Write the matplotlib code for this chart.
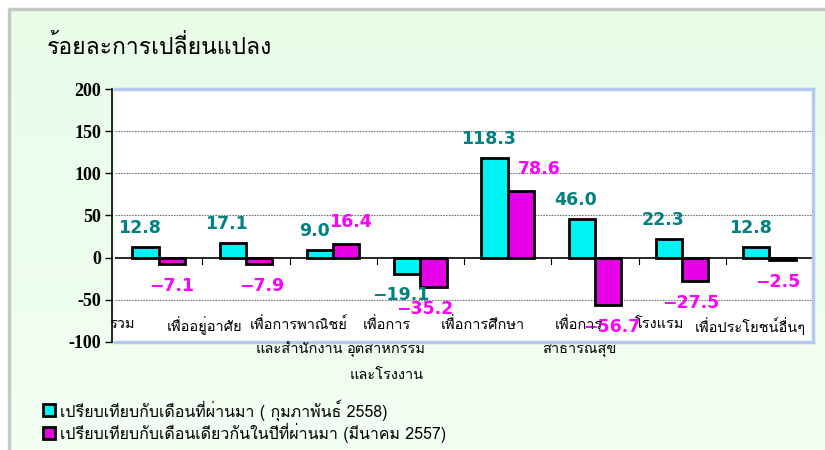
import matplotlib
matplotlib.use("Agg")
import matplotlib.pyplot as plt
import numpy as np
from matplotlib import font_manager
from matplotlib.ft2font import FT2Font
from matplotlib.patches import Rectangle

# data
categories = ["รวม", "เพื่ออยู่อาศัย", "เพื่อการพาณิชย์\nและสำนักงาน",
              "เพื่อการ\nอุตสาหกรรม\nและโรงงาน", "เพื่อการศึกษา",
              "เพื่อการ\nสาธารณสุข", "โรงแรม", "เพื่อประโยชน์อื่นๆ"]
prev_month = [12.8, 17.1, 9.0, -19.1, 118.3, 46.0, 22.3, 12.8]
prev_year = [-7.1, -7.9, 16.4, -35.2, 78.6, -56.7, -27.5, -2.5]
series_names = ["เปรียบเทียบกับเดือนที่ผ่านมา ( กุมภาพันธ์ 2558)",
                "เปรียบเทียบกับเดือนเดียวกันในปีที่ผ่านมา (มีนาคม 2557)"]
title = "ร้อยละการเปลี่ยนแปลง"
yticks = [-100, -50, 0, 50, 100, 150, 200]

# layout: excel puts category labels off-centre, labels nudged by hand
label_shift = [-0.35, -0.47, -0.39, -0.39, -0.29, -0.18, -0.26, -0.22]
label_align = ["left", "center", "center", "center", "center", "center", "center", "center"]
pink_nudge = [0, 3, 4, -9, 19, 4, -4, -5]


def thai_font():
    for f in font_manager.fontManager.ttflist:
        try:
            cm = FT2Font(f.fname).get_charmap()
        except Exception:
            continue
        if 0x0E01 in cm and 0x0E40 in cm:
            return f.name
    return "DejaVu Sans"


thai = thai_font()
plt.rcParams['font.family'] = [thai, 'DejaVu Sans']

fig = plt.figure(figsize=(8.25, 4.5), dpi=100)
fig.patch.set_facecolor("white")

# slide background with grey frame
bg = fig.add_axes([0, 0, 1, 1], zorder=-5)
bg.set_xlim(0, 825)
bg.set_ylim(450, 0)
bg.axis("off")
grad = np.linspace(0, 1, 200).reshape(-1, 1)
c0 = np.array([0.91, 0.99, 0.91])
c1 = np.array([0.95, 1.0, 0.95])
img = c0 + (c1 - c0) * grad[..., None]
bg.imshow(img, extent=[10, 825, 450, 10], aspect="auto")
bg.plot([9, 9, 825], [450, 9, 9], color="#c8c8c8", lw=2.5)

ax = fig.add_axes([115 / 825, 1 - 342 / 450, 698 / 825, 253 / 450])
ax.set_facecolor("white")
ax.set_xlim(0, len(categories))
ax.set_ylim(-100, 200)

x = np.arange(len(categories)) + 0.5
w = 0.3
ax.bar(x - w / 2, prev_month, w, color="#00f4f4", edgecolor="black", lw=2, zorder=3)
ax.bar(x + w / 2, prev_year, w, color="#e600e6", edgecolor="black", lw=2, zorder=3)

px = 72 / 100  # points per pixel
for xi, v in zip(x, prev_month):
    ax.annotate(f"{v:.1f}".replace("-", "\u2212"), (xi - w / 2, v),
                xytext=(-6 * px, (19 if v > 0 else -21) * px),
                textcoords="offset points", ha="center", va="center", color="#008080",
                fontsize=12.5, fontweight="bold", family="DejaVu Sans", zorder=4)
for xi, v, dx in zip(x, prev_year, pink_nudge):
    ax.annotate(f"{v:.1f}".replace("-", "\u2212"), (xi + w / 2, v),
                xytext=(dx * px, (22 if v > 0 else -22) * px),
                textcoords="offset points", ha="center", va="center", color="#ff00ff",
                fontsize=12.5, fontweight="bold", family="DejaVu Sans", zorder=4)

for i, lab in enumerate(categories):
    xx = x[i] + label_shift[i]
    if label_align[i] == "left":
        xx = -0.06
    ax.text(xx, -70, lab, ha=label_align[i], va="top", fontsize=10.5,
            linespacing=1.95, zorder=5, clip_on=False)

ax.axhline(0, color="black", lw=1.2, zorder=2)
for k in range(1, len(categories) + 1):
    ax.plot([k, k], [0, -7], color="black", lw=0.8, zorder=2)

ax.set_yticks(yticks)
ax.set_yticklabels([str(t) for t in yticks])
ax.set_xticks([])
ax.tick_params(axis="y", length=5, width=1, pad=3)
for t in [-50, 50, 100, 150]:
    ax.axhline(t, color="#777777", lw=0.8, ls=(0, (1.5, 1)), zorder=1)

for s in ["top", "right", "bottom"]:
    ax.spines[s].set_color("#b4c8f0")
    ax.spines[s].set_linewidth(2.5)
ax.spines["left"].set_color("black")
ax.spines["left"].set_linewidth(1.2)
ax.spines["left"].set_position(("outward", 2))

fig.text(47 / 825, 1 - 47 / 450, title, fontsize=16.5, va="center", ha="left")

# legend
for j, (name, col) in enumerate(zip(series_names, ["#00f4f4", "#e600e6"])):
    yy = 410 + 23 * j
    bg.add_patch(Rectangle((43, yy - 6), 12, 12, facecolor=col, edgecolor="black", lw=2))
    bg.text(60, yy, name, fontsize=11.5, va="center", ha="left")

fig.canvas.draw()
for lab in ax.get_yticklabels():
    lab.set_fontfamily("Liberation Serif")
    lab.set_fontweight("bold")
    lab.set_fontsize(13)

fig.savefig("out.png", dpi=100)
